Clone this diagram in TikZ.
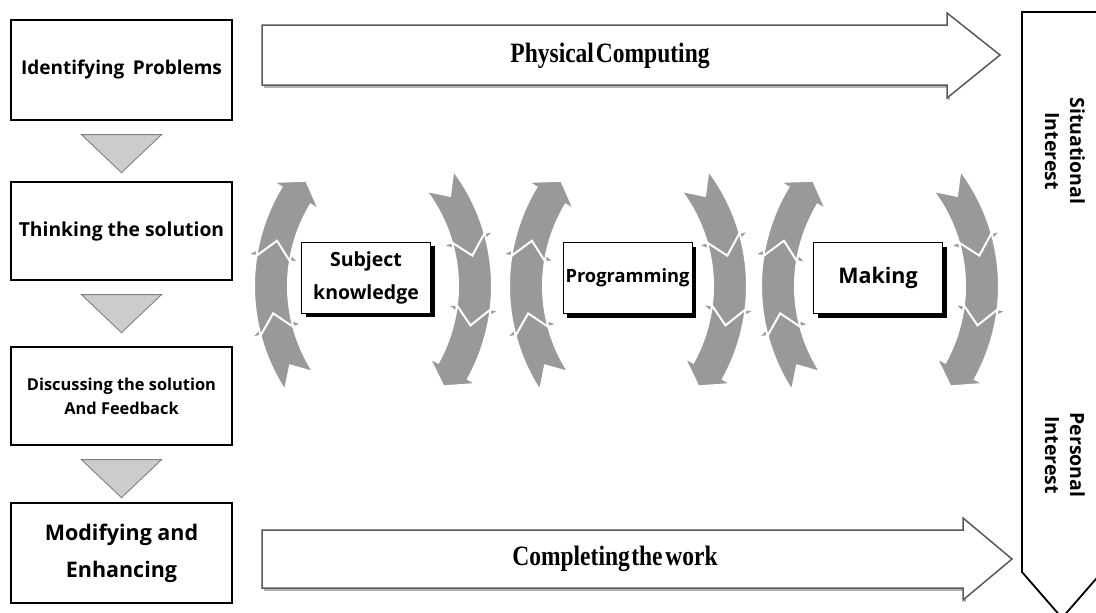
\documentclass[tikz,border=0pt]{standalone}
\usepackage{fontspec}
\usetikzlibrary{calc,shadows}
\newfontfamily\gothic{Open Sans}
\newfontfamily\serifb{Liberation Serif}
\newcommand\cond[1]{\scalebox{0.84}[1]{#1}}

\tikzset{
  tsize/.style 2 args={font=\gothic\bfseries\fontsize{#1}{#2}\selectfont},
  stepbox/.style={draw=black, line width=1.3pt, fill=white, inner sep=0pt,
    minimum width=221, align=center},
  tri/.style={draw=black!50, fill=black!20, line width=0.9pt},
  bigarrow/.style={draw=black!65, line width=1.5pt, fill=white},
  ashadow/.style={draw=black!30, line width=1.5pt},
  atext/.style={font=\serifb\bfseries\fontsize{28}{30}\selectfont, inner sep=0pt},
  panel/.style={draw=black, line width=1.8pt, fill=white},
  ptext/.style={rotate=-90, align=center, inner sep=0pt, tsize={19.5}{25}},
  cyc/.style={fill=black!40, draw=white, line width=2pt, line join=miter},
  cbox/.style={draw=black, line width=0.9pt, fill=white, inner sep=0pt,
    minimum width=129, minimum height=71, align=center,
    drop shadow={shadow xshift=4pt, shadow yshift=-4pt, opacity=1, fill=black}}
}

% one segment of a circular arrow:
% centre x, centre y, radius, tail angle, head-base angle (tip 6 degrees further)
\newcommand\cseg[5]{%
  \filldraw[cyc,shift={(#1,#2)}]
    ({-(#4)}:{#3+17}) arc[start angle={-(#4)}, end angle={-(#5)}, radius={#3+17}]
    -- ({-(#5)}:{#3+27}) -- ({-(#5)+6}:{#3}) -- ({-(#5)}:{#3-27})
    -- ({-(#5)}:{#3-17}) arc[start angle={-(#5)}, end angle={-(#4)}, radius={#3-17}]
    -- ({-(#4)+6}:{#3}) -- cycle;}

\newcommand\cycgroup[1]{%
  \pgfmathsetmacro\cycL{#1+73}%
  \pgfmathsetmacro\cycR{#1-73}%
  \cseg{\cycL}{286}{175}{213}{195}
  \cseg{\cycL}{286}{175}{195}{171}
  \cseg{\cycL}{286}{175}{171}{149}
  \cseg{\cycR}{286}{175}{37}{16}
  \cseg{\cycR}{286}{175}{16}{-7}
  \cseg{\cycR}{286}{175}{-7}{-29}}

\begin{document}
\begin{tikzpicture}[x=1pt,y=-1pt]
\useasboundingbox (0,0) rectangle (1096,613);
\clip (0,0) rectangle (1096,613);
\fill[white] (0,0) rectangle (1096,613);

% left column of steps
\node[stepbox, minimum height=100, tsize={19}{23}] (b1) at (121.5,70)
  {Identifying\hspace{0.45em}Problems};
\node[stepbox, minimum height=98, tsize={19.3}{23}] (b2) at (121.5,231)
  {Thinking the solution};
\node[stepbox, minimum height=98, tsize={16.4}{24}] (b3) at (121.5,396)
  {Discussing the solution\\And Feedback};
\node[stepbox, minimum height=100, tsize={21.5}{37}] (b4) at (121.5,553)
  {Modifying and\\Enhancing};

\foreach \a/\b in {b1/b2, b2/b3, b3/b4}
  \draw[tri] ($(\a.south)+(-40,14)$) -- ($(\a.south)+(40,14)$)
             -- ($(\a.south)+(0,52)$) -- cycle;

% big arrows
\draw[ashadow] (264,87) -- (949,87) -- (949,100);
\filldraw[bigarrow] (262,25) -- (947,25) -- (947,13) -- (1000,55) -- (947,98)
  -- (947,85) -- (262,85) -- cycle;
\node[atext] (pc) at (610,56) {\cond{Physical\hspace{0.08em}Computing}};

\draw[ashadow] (264,590) -- (965,590) -- (965,602);
\filldraw[bigarrow] (262,530) -- (963,530) -- (963,518) -- (1012,559) -- (963,600)
  -- (963,588) -- (262,588) -- cycle;
\node[atext] (cw) at (615,559) {\cond{Completing\hspace{0.06em}the\hspace{0.12em}work}};

% right panel
\filldraw[panel] (1022,12) -- (1102,12) -- (1102,572) -- (1062,618) -- (1022,572) -- cycle;
\node[ptext] (si) at (1065,151) {Situational\\Interest};
\node[ptext] (pi) at (1065,455) {Personal\\Interest};

% circular arrows
\cycgroup{373}
\cycgroup{628}
\cycgroup{880}

% centre boxes
\node[cbox, tsize={19.5}{33}] (sk) at (366,277.5) {Subject\\knowledge};
\node[cbox, tsize={18.3}{22}] (pg) at (627.5,278) {Programming};
\node[cbox, tsize={21.5}{25}] (mk) at (878,278) {Making};
\end{tikzpicture}
\end{document}
